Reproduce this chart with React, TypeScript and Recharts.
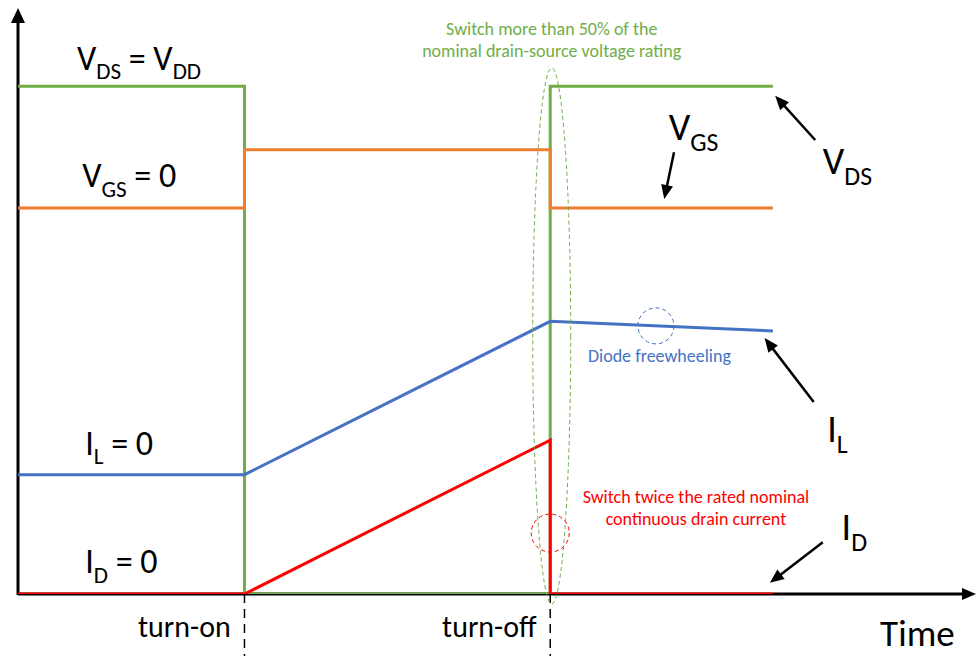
import React from 'react';
import { LineChart, Line, XAxis, YAxis, ReferenceLine, ReferenceDot } from 'recharts';

// switching waveform, time in arbitrary units
const vdsTime = [0, 3, 3, 7.05, 7.05, 10];
const vdsValues = [10, 10, 0, 0, 10, 10];
const vgsTime = [0, 3, 3, 7.05, 7.05, 10];
const vgsValues = [7.6, 7.6, 8.75, 8.75, 7.6, 7.6];
const ilTime = [0, 3, 7.05, 10];
const ilValues = [2.35, 2.35, 5.37, 5.18];
const idTime = [0, 3, 7.05, 7.05, 10];
const idValues = [0, 0, 3.03, 0, 0];

const switchTimes = [3, 7.05];
const switchLabels = ['turn-on', 'turn-off'];

const GREEN = '#70AD47';
const ORANGE = '#ED7D31';
const BLUE = '#4472C4';
const RED = '#FF0000';
const FONT = 'Carlito, Lato, sans-serif';

const toPoints = (ts: number[], vs: number[]) => ts.map((t, i) => ({ t, v: vs[i] }));

const vds = toPoints(vdsTime, vdsValues);
const vgs = toPoints(vgsTime, vgsValues);
const il = toPoints(ilTime, ilValues);
const id = toPoints(idTime, idValues);

const arrowShape = (head: number, half: number, width: number) => (p: any) => {
  const { x1, y1, x2, y2 } = p;
  const dx = x2 - x1;
  const dy = y2 - y1;
  const len = Math.hypot(dx, dy) || 1;
  const ux = dx / len;
  const uy = dy / len;
  const bx = x2 - ux * head;
  const by = y2 - uy * head;
  return (
    <g>
      <line x1={x1} y1={y1} x2={bx + ux} y2={by + uy} stroke="#000" strokeWidth={width} />
      <polygon
        points={`${x2},${y2} ${bx - uy * half},${by + ux * half} ${bx + uy * half},${by - ux * half}`}
        fill="#000"
      />
    </g>
  );
};

type Part = [string, boolean];

const subText = (parts: Part[], size: number) => (p: any) => {
  const shift = size * 0.28;
  let down = false;
  return (
    <text x={p.cx} y={p.cy} fontSize={size} fontFamily={FONT} fill="#000" style={{ whiteSpace: 'pre' }}>
      {parts.map(([s, sub], i) => {
        let dy = 0;
        if (sub && !down) dy = shift;
        if (!sub && down) dy = -shift;
        down = sub;
        return (
          <tspan key={i} dy={dy} fontSize={sub ? size * 0.68 : size}>
            {s}
          </tspan>
        );
      })}
    </text>
  );
};

const plainText = (lines: string[], size: number, color: string, anchor: string, lh: number) => (p: any) => (
  <text x={p.cx} y={p.cy} fontSize={size} fontFamily={FONT} fill={color} textAnchor={anchor}>
    {lines.map((s, i) => (
      <tspan key={i} x={p.cx} dy={i === 0 ? 0 : lh}>
        {s}
      </tspan>
    ))}
  </text>
);

const ellipseShape = (rx: number, ry: number, color: string) => (p: any) => (
  <ellipse cx={p.cx} cy={p.cy} rx={rx} ry={ry} fill="none" stroke={color} strokeWidth={1} strokeDasharray="4 3" />
);

export default function App() {
  return (
    <div style={{ position: 'absolute', left: 0, top: 0, background: '#fff' }}>
      <LineChart width={976} height={656} margin={{ top: 10, right: 0, left: 18, bottom: 62 }}>
        <XAxis type="number" dataKey="t" domain={[0, 12.69]} hide allowDataOverflow />
        <YAxis type="number" dataKey="v" domain={[0, 11.5]} hide allowDataOverflow />

        {/* axes */}
        <ReferenceLine segment={[{ x: 0, y: 0 }, { x: 12.69, y: 0 }]} ifOverflow="visible" shape={arrowShape(14, 6, 3)} />
        <ReferenceLine segment={[{ x: 0, y: -0.02 }, { x: 0, y: 11.54 }]} ifOverflow="visible" shape={arrowShape(15, 7, 3)} />

        {switchTimes.map((t, i) => (
          <ReferenceLine
            key={`sw-${i}`}
            segment={[{ x: t, y: 0 }, { x: t, y: -1.25 }]}
            ifOverflow="visible"
            stroke="#000"
            strokeWidth={1.5}
            strokeDasharray="9 6"
          />
        ))}
        {switchTimes.map((t, i) => (
          <ReferenceDot
            key={`swl-${i}`}
            x={t - 0.18}
            y={-0.85}
            ifOverflow="visible"
            shape={plainText([switchLabels[i]], 30, '#000', 'end', 0)}
          />
        ))}

        <Line data={vds} dataKey="v" type="linear" stroke={GREEN} strokeWidth={3} dot={false} activeDot={false} isAnimationActive={false} />
        <Line data={vgs} dataKey="v" type="linear" stroke={ORANGE} strokeWidth={3} dot={false} activeDot={false} isAnimationActive={false} />
        <Line data={il} dataKey="v" type="linear" stroke={BLUE} strokeWidth={3} dot={false} activeDot={false} isAnimationActive={false} />
        <Line data={id} dataKey="v" type="linear" stroke={RED} strokeWidth={3} dot={false} activeDot={false} isAnimationActive={false} />

        {/* dashed highlight rings */}
        <ReferenceDot x={7.07} y={5.08} ifOverflow="visible" shape={ellipseShape(19, 268, GREEN)} />
        <ReferenceDot x={8.45} y={5.28} ifOverflow="visible" shape={ellipseShape(18, 18, BLUE)} />
        <ReferenceDot x={7.05} y={1.2} ifOverflow="visible" shape={ellipseShape(19, 19, RED)} />

        {/* left-side levels */}
        <ReferenceDot x={0.78} y={10.32} ifOverflow="visible" shape={subText([['V', false], ['DS', true], [' = V', false], ['DD', true]], 34)} />
        <ReferenceDot x={0.85} y={8.01} ifOverflow="visible" shape={subText([['V', false], ['GS', true], [' = 0', false]], 34)} />
        <ReferenceDot x={0.89} y={2.74} ifOverflow="visible" shape={subText([['I', false], ['L', true], [' = 0', false]], 34)} />
        <ReferenceDot x={0.89} y={0.41} ifOverflow="visible" shape={subText([['I', false], ['D', true], [' = 0', false]], 34)} />

        {/* right-side names */}
        <ReferenceDot x={8.62} y={8.94} ifOverflow="visible" shape={subText([['V', false], ['GS', true]], 38)} />
        <ReferenceDot x={10.66} y={8.27} ifOverflow="visible" shape={subText([['V', false], ['DS', true]], 38)} />
        <ReferenceDot x={10.72} y={2.99} ifOverflow="visible" shape={subText([['I', false], ['L', true]], 38)} />
        <ReferenceDot x={10.91} y={1.06} ifOverflow="visible" shape={subText([['I', false], ['D', true]], 38)} />

        <ReferenceLine segment={[{ x: 8.69, y: 8.7 }, { x: 8.56, y: 7.78 }]} ifOverflow="visible" shape={arrowShape(14, 6, 2.5)} />
        <ReferenceLine segment={[{ x: 10.56, y: 8.94 }, { x: 10.03, y: 9.81 }]} ifOverflow="visible" shape={arrowShape(14, 6, 2.5)} />
        <ReferenceLine segment={[{ x: 10.54, y: 3.78 }, { x: 9.89, y: 5.04 }]} ifOverflow="visible" shape={arrowShape(14, 6, 2.5)} />
        <ReferenceLine segment={[{ x: 10.66, y: 1.02 }, { x: 9.96, y: 0.22 }]} ifOverflow="visible" shape={arrowShape(14, 6, 2.5)} />

        <ReferenceDot x={11.42} y={-1.03} ifOverflow="visible" shape={plainText(['Time'], 37, '#000', 'start', 0)} />

        {/* notes */}
        <ReferenceDot
          x={7.07}
          y={11.01}
          ifOverflow="visible"
          shape={plainText(['Switch more than 50% of the', 'nominal drain-source voltage rating'], 18, GREEN, 'middle', 22)}
        />
        <ReferenceDot x={7.55} y={4.57} ifOverflow="visible" shape={plainText(['Diode freewheeling'], 18, BLUE, 'start', 0)} />
        <ReferenceDot
          x={8.98}
          y={1.79}
          ifOverflow="visible"
          shape={plainText(['Switch twice the rated nominal', 'continuous drain current'], 18, RED, 'middle', 22)}
        />
      </LineChart>
    </div>
  );
}
